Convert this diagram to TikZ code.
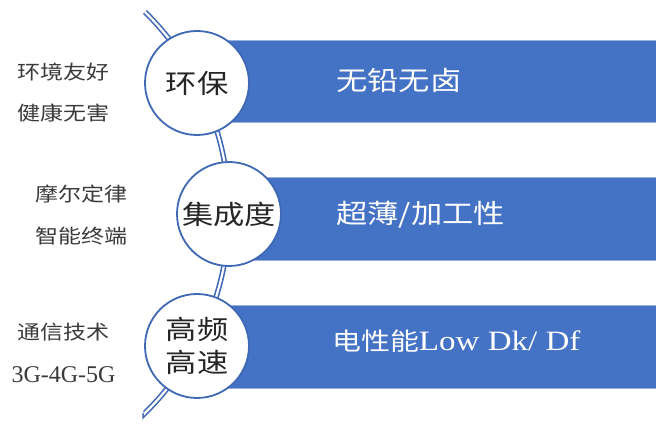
\documentclass[tikz,border=0pt]{standalone}
\usepackage{fontspec}
\usepackage{graphicx}
\setmainfont{Liberation Serif}
\newfontfamily\cjk{Noto Sans CJK SC}
\definecolor{barblue}{HTML}{4472C4}
\definecolor{edgeblue}{HTML}{3F68B5}
\definecolor{lefttext}{HTML}{3A3A3A}
\newcommand\hstretch[1]{\scalebox{1.18}[1]{#1}}
\begin{document}
\begin{tikzpicture}[x=1pt,y=1pt,
  rail/.style={draw=edgeblue, line width=1.6pt, double=white, double distance=2.2pt},
  bubble/.style={circle, draw=edgeblue, line width=1.8pt, fill=white, minimum size=104pt, inner sep=0pt, align=center, text=black!85, font=\cjk\fontsize{26.5}{35}\selectfont},
  bar/.style={fill=barblue, draw=barblue!55!white, line width=0.6pt},
  bartxt/.style={anchor=west, text=white, inner sep=0pt},
  side/.style={font=\cjk\fontsize{19.5}{22}\selectfont, text=lefttext, inner sep=0pt}]
\fill[white] (0,0) rectangle (656,425);
\useasboundingbox (0,0) rectangle (656,425);
% bars
\path[bar] (197,303) coordinate (b1sw) rectangle (660,385) coordinate (b1ne);
\path[bar] (229,165) coordinate (b2sw) rectangle (660,248) coordinate (b2ne);
\path[bar] (197,37) coordinate (b3sw) rectangle (660,120) coordinate (b3ne);
% rail
\coordinate (top) at (145,413);
\coordinate (bot) at (145,12);
\draw[rail] (top) arc[start angle=45.47, end angle=-45.47, radius=281.3pt] -- (bot);
% circles
\node[bubble] (c1) at (197,342) {\hstretch{环保}};
\node[bubble] (c2) at (229,211) {\hstretch{集成度}};
\node[bubble] (c3) at (197,79) {\hstretch{高频}\\[-2pt]\hstretch{高速}};
% bar texts
\node[bartxt, font=\cjk\fontsize{26.5}{30}\selectfont] (t1) at (336,345) {\hstretch{无铅无卤}};
\node[bartxt, font=\cjk\fontsize{26.5}{30}\selectfont] (t2) at (336,210) {\hstretch{超薄/加工性}};
\node[bartxt] (t3) at (332,84) {\hstretch{{\cjk\fontsize{24.5}{30}\selectfont 电性能}{\fontsize{28}{30}\selectfont Low Dk/ Df}}};
% side texts
\node[side] (s1) at (63.5,353) {\hstretch{环境友好}};
\node[side] (s2) at (63.5,312) {\hstretch{健康无害}};
\node[side] (s3) at (81.5,231) {\hstretch{摩尔定律}};
\node[side] (s4) at (81.5,189) {\hstretch{智能终端}};
\node[side] (s5) at (63.5,93) {\hstretch{通信技术}};
\node[side, font=\fontsize{24}{28}\selectfont] (s6) at (63.5,50) {3G-4G-5G};
\end{tikzpicture}
\end{document}
